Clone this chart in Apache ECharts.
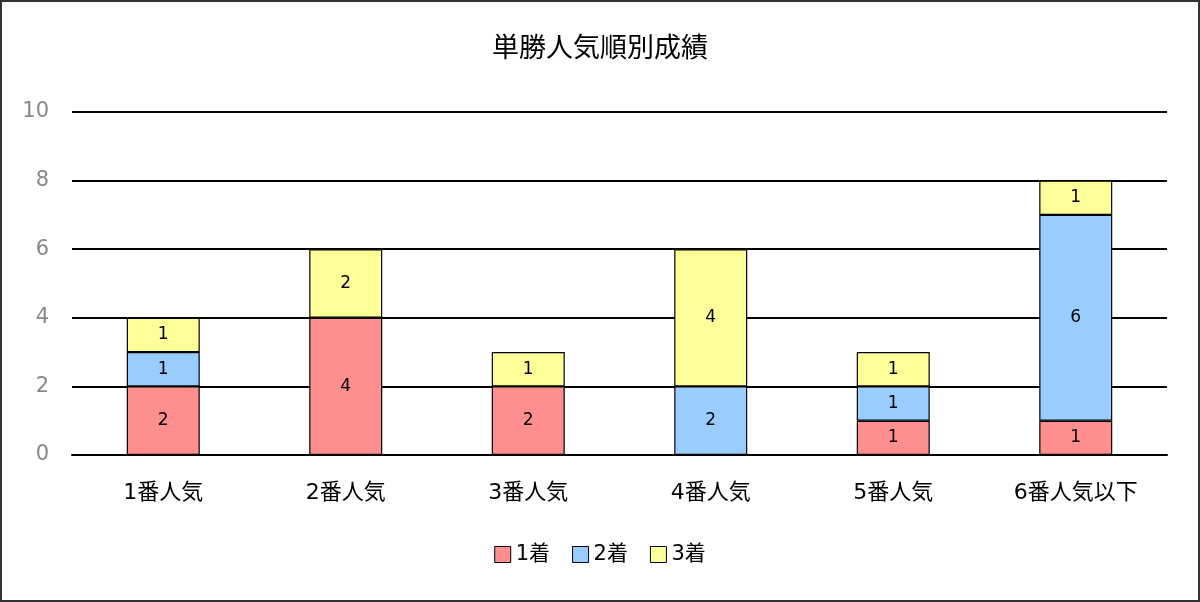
<!DOCTYPE html>
<html><head><meta charset="utf-8">
<script src="https://cdn.jsdelivr.net/npm/echarts@6/dist/echarts.min.js"></script>
<style>html,body{margin:0;padding:0;background:#fff;}#c{width:1200px;height:602px;box-sizing:border-box;border:2px solid #333;}</style>
</head><body><div id="c"></div>
<script>
const categories = ['1番人気','2番人気','3番人気','4番人気','5番人気','6番人気以下'];
const first = [2,4,2,0,1,1];
const second = [1,0,0,2,1,6];
const third = [1,2,1,4,1,1];
const seriesNames = ['1着','2着','3着'];
const colors = ['#FF8F8F','#99CCFF','#FFFF99'];
const FONT = '"DejaVu Sans","Noto Sans CJK JP",sans-serif';
const chart = echarts.init(document.getElementById('c'));
const mk = (name, data, color) => ({
  name, type:'bar', stack:'a', data, barWidth:'40%',
  itemStyle:{color, borderColor:'#000', borderWidth:1.2},
  label:{show:true, position:'inside', color:'#000', fontSize:17, fontFamily:FONT,
    formatter:p => p.value ? String(p.value) : ''}
});
chart.setOption({
  animation:false,
  title:{text:'単勝人気順別成績', left:'center', top:29, textStyle:{fontSize:27, fontWeight:'normal', color:'#000', fontFamily:FONT}},
  legend:{bottom:30, left:'center', itemWidth:16, itemHeight:16, itemGap:22,
    textStyle:{fontSize:21, color:'#000', fontFamily:FONT},
    data:seriesNames.map((n,i)=>({name:n, icon:'rect', itemStyle:{color:colors[i], borderColor:'#000', borderWidth:1}}))},
  grid:{left:70, right:31, top:110, bottom:145},
  xAxis:{type:'category', data:categories, axisTick:{show:false},
    axisLine:{lineStyle:{color:'#000', width:2}},
    axisLabel:{color:'#000', fontSize:22, margin:27, fontFamily:FONT}},
  yAxis:{type:'value', min:0, max:10, interval:2, axisLine:{show:false}, axisTick:{show:false},
    splitLine:{lineStyle:{color:'#000', width:2}},
    axisLabel:{color:'#888', fontSize:21, margin:23, fontFamily:FONT}},
  series:[mk(seriesNames[0], first, colors[0]), mk(seriesNames[1], second, colors[1]), mk(seriesNames[2], third, colors[2])]
});
</script></body></html>
